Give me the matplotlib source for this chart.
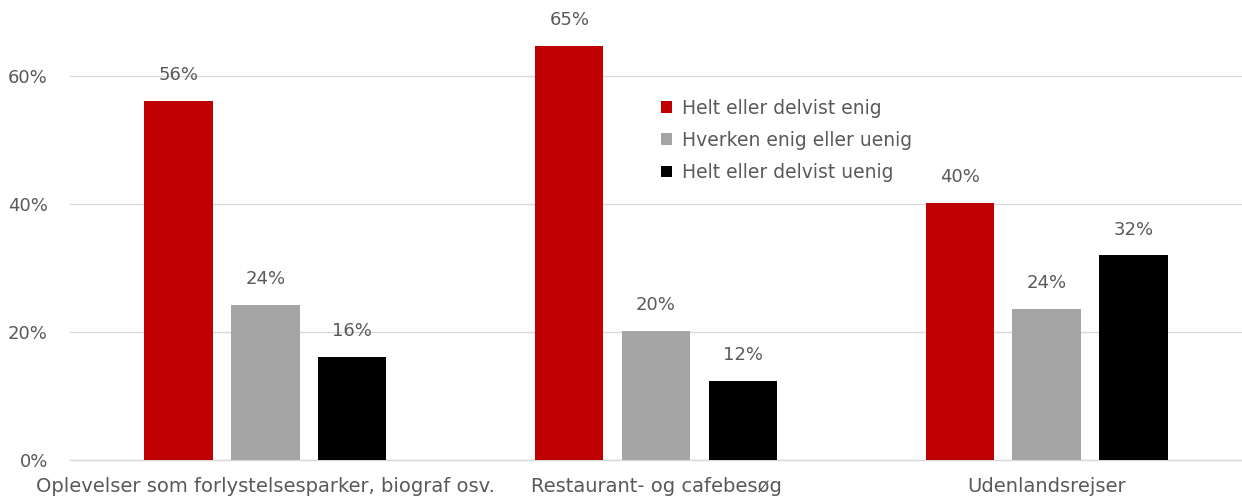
import numpy as np
import matplotlib.pyplot as plt
from matplotlib.ticker import PercentFormatter

categories = ['Oplevelser som forlystelsesparker, biograf osv.',
              'Restaurant- og cafebesøg',
              'Udenlandsrejser']
series = ['Helt eller delvist enig', 'Hverken enig eller uenig', 'Helt eller delvist uenig']
enig = [0.561, 0.647, 0.402]
hverken = [0.242, 0.202, 0.236]
uenig = [0.161, 0.124, 0.320]
colors = ['#c00000', '#a5a5a5', '#000000']

plt.rcParams['font.family'] = ['DejaVu Sans']
txt = '#595959'

fig = plt.figure(figsize=(12.42, 5.01), dpi=100)
ax = fig.add_axes([70 / 1242, 41 / 501, 1 - 70 / 1242, 1 - 53 / 501])

x = np.arange(len(categories))
width = 0.175
step = 0.222
for i, (vals, name, c) in enumerate(zip([enig, hverken, uenig], series, colors)):
    bars = ax.bar(x + (i - 1) * step, vals, width, color=c, label=name, zorder=3)
    for b, v in zip(bars, vals):
        ax.annotate(f'{v:.0%}', (b.get_x() + b.get_width() / 2, v),
                    xytext=(0, 12), textcoords='offset points',
                    ha='center', va='bottom', fontsize=13, color=txt)

ax.set_xlim(-0.5, 2.5)
ax.set_ylim(0, 0.70)
ax.set_yticks([0, 0.2, 0.4, 0.6])
ax.yaxis.set_major_formatter(PercentFormatter(1.0, decimals=0))
ax.set_xticks(x)
ax.set_xticklabels(categories, fontsize=14, color=txt)
ax.tick_params(axis='y', length=0, pad=16, labelsize=13, labelcolor=txt)
ax.tick_params(axis='x', length=0, pad=12)
ax.grid(axis='y', color='#d9d9d9', linewidth=1, zorder=0)
ax.axhline(0, color='#d9d9d9', linewidth=1, clip_on=False, zorder=1)
for s in ax.spines.values():
    s.set_visible(False)

ax.legend(loc='upper left', bbox_to_anchor=(574 / 1172, 1 - 70 / 448),
          frameon=False, fontsize=13.5, handlelength=0.6, handleheight=0.6,
          handletextpad=0.5, labelspacing=0.7, labelcolor=txt)

fig.savefig('out.png', dpi=100)
